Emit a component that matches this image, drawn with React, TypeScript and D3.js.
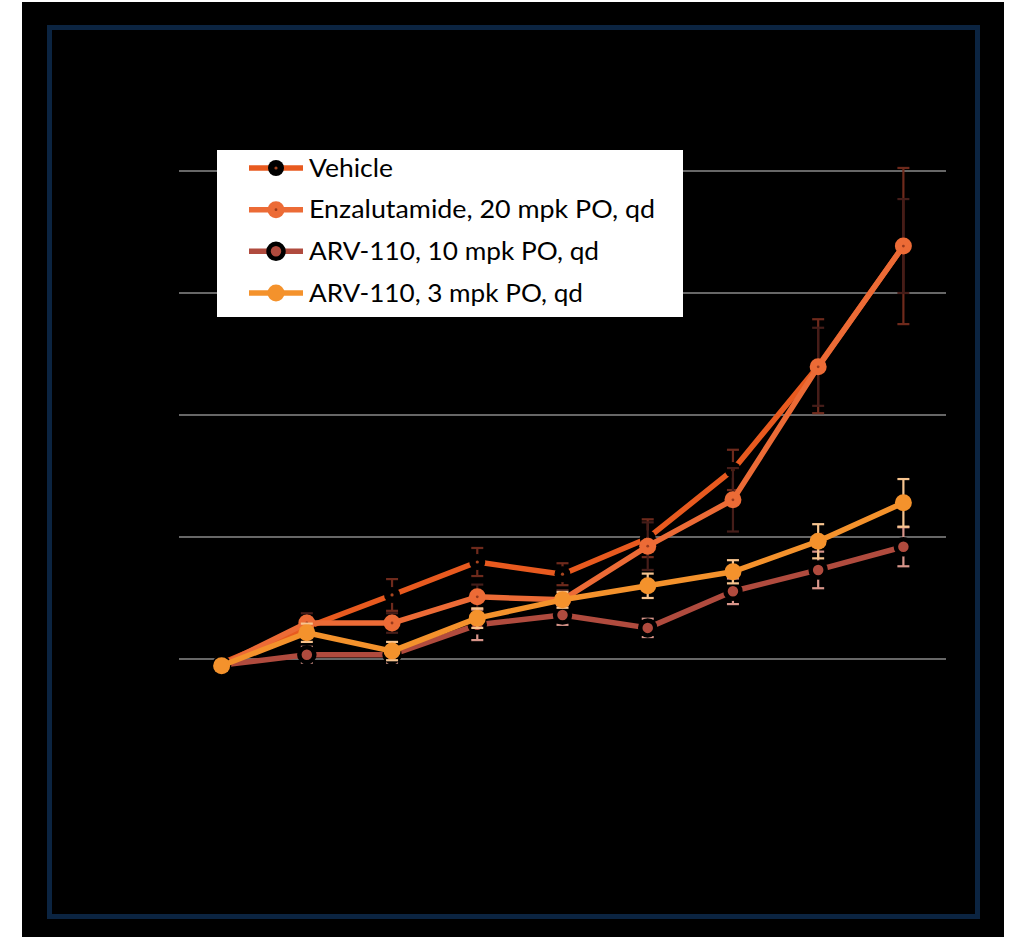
import React from "react";
import * as d3 from "d3";

const categories = ["T1", "T2", "T3", "T4", "T5", "T6", "T7", "T8", "T9"];
const yTicks = [0, 200, 400, 600, 800, 1000];

const vehicle = [193, 252, 305, 359, 339, 398, 510, 680, 877];
const vehicleErr = [8, 16, 26, 23, 18, 31, 33, 77, 128];
const enza = [190, 259, 259, 302, 297, 385, 461, 679, 877];
const enzaErr = [8, 16, 16, 20, 16, 39, 52, 64, 77];
const arv10 = [190, 207, 207, 256, 272, 251, 311, 346, 384];
const arv10Err = [8, 13, 13, 25, 16, 15, 21, 30, 32];
const arv3 = [189, 243, 213, 267, 297, 320, 343, 393, 456];
const arv3Err = [8, 15, 15, 16, 13, 20, 19, 28, 39];

const seriesNames = [
  "Vehicle",
  "Enzalutamide, 20 mpk PO, qd",
  "ARV-110, 10 mpk PO, qd",
  "ARV-110, 3 mpk PO, qd",
];

type Series = {
  name: string;
  values: number[];
  errs: number[];
  line: string;
  err: string;
  marker: "vehicle" | "enza" | "arv10" | "arv3";
  textW: number;
};

const series: Series[] = [
  { name: seriesNames[0], values: vehicle, errs: vehicleErr, line: "#e85a1f", err: "#6e2a1c", marker: "vehicle", textW: 84 },
  { name: seriesNames[1], values: enza, errs: enzaErr, line: "#ec6b36", err: "#451d19", marker: "enza", textW: 346 },
  { name: seriesNames[2], values: arv10, errs: arv10Err, line: "#b04b3e", err: "#d8958a", marker: "arv10", textW: 290 },
  { name: seriesNames[3], values: arv3, errs: arv3Err, line: "#f4922c", err: "#f7c48f", marker: "arv3", textW: 274 },
];

function Marker({ kind, x, y, color }: { kind: string; x: number; y: number; color: string }) {
  if (kind === "vehicle") {
    return (
      <g>
        <circle cx={x} cy={y} r={8} fill="#000" />
        <circle cx={x} cy={y} r={1.6} fill="#a8451f" />
      </g>
    );
  }
  if (kind === "enza") {
    return (
      <g>
        <circle cx={x} cy={y} r={8.5} fill={color} />
        <circle cx={x} cy={y} r={1.4} fill="#9a3a1c" />
      </g>
    );
  }
  if (kind === "arv10") {
    return <circle cx={x} cy={y} r={7.5} fill={color} stroke="#000" strokeWidth={4.5} />;
  }
  return <circle cx={x} cy={y} r={8.5} fill={color} />;
}

export default function App() {
  const W = 1012;
  const H = 937;
  const x = d3.scalePoint<string>().domain(categories).range([179, 946]).padding(0.5);
  const y = d3.scaleLinear().domain([0, 1000]).range([781, 171]);
  const line = d3
    .line<number>()
    .x((_, i) => x(categories[i]) as number)
    .y((d) => y(d));

  const legendX = 217;
  const legendY = 150;
  const rowBase = [176.7, 218.4, 260, 301.7];

  return (
    <svg width={W} height={H} style={{ display: "block", position: "absolute", left: 0, top: 0 }}>
      <rect x={0} y={0} width={W} height={H} fill="#fff" />
      <rect x={22} y={2} width={982} height={935} fill="#000" />
      <rect x={49.5} y={27.5} width={928} height={889} fill="none" stroke="#0b2441" strokeWidth={5} />

      {yTicks.filter((t) => t > 0).map((t) => (
        <line key={t} x1={179} x2={946} y1={y(t)} y2={y(t)} stroke="#8a8a8a" strokeWidth={1.5} />
      ))}

      {series.map((s) => (
        <g key={s.name}>
          {s.values.map((v, i) => {
            const cx = x(categories[i]) as number;
            const e = s.errs[i];
            return (
              <g key={i} stroke={s.err} strokeWidth={2.2}>
                <line x1={cx} x2={cx} y1={y(v + e)} y2={y(v - e)} />
                <line x1={cx - 6} x2={cx + 6} y1={y(v + e)} y2={y(v + e)} />
                <line x1={cx - 6} x2={cx + 6} y1={y(v - e)} y2={y(v - e)} />
              </g>
            );
          })}
          <path d={line(s.values) || ""} fill="none" stroke={s.line} strokeWidth={5.5} strokeLinejoin="round" />
          {s.values.map((v, i) => (
            <Marker key={i} kind={s.marker} x={x(categories[i]) as number} y={y(v)} color={s.line} />
          ))}
        </g>
      ))}

      <rect x={legendX} y={legendY} width={466} height={167} fill="#fff" />
      {series.map((s, i) => {
        const cy = rowBase[i] - 8.7;
        return (
          <g key={s.name}>
            <line x1={249} x2={303} y1={cy} y2={cy} stroke={s.line} strokeWidth={5.5} />
            <Marker kind={s.marker} x={276} y={cy} color={s.line} />
            <text
              x={309}
              y={rowBase[i]}
              fontFamily="Lato, 'Liberation Sans', sans-serif"
              fontSize={25}
              fill="#000"
              textLength={s.textW}
              lengthAdjust="spacingAndGlyphs"
            >
              {s.name}
            </text>
          </g>
        );
      })}
    </svg>
  );
}
